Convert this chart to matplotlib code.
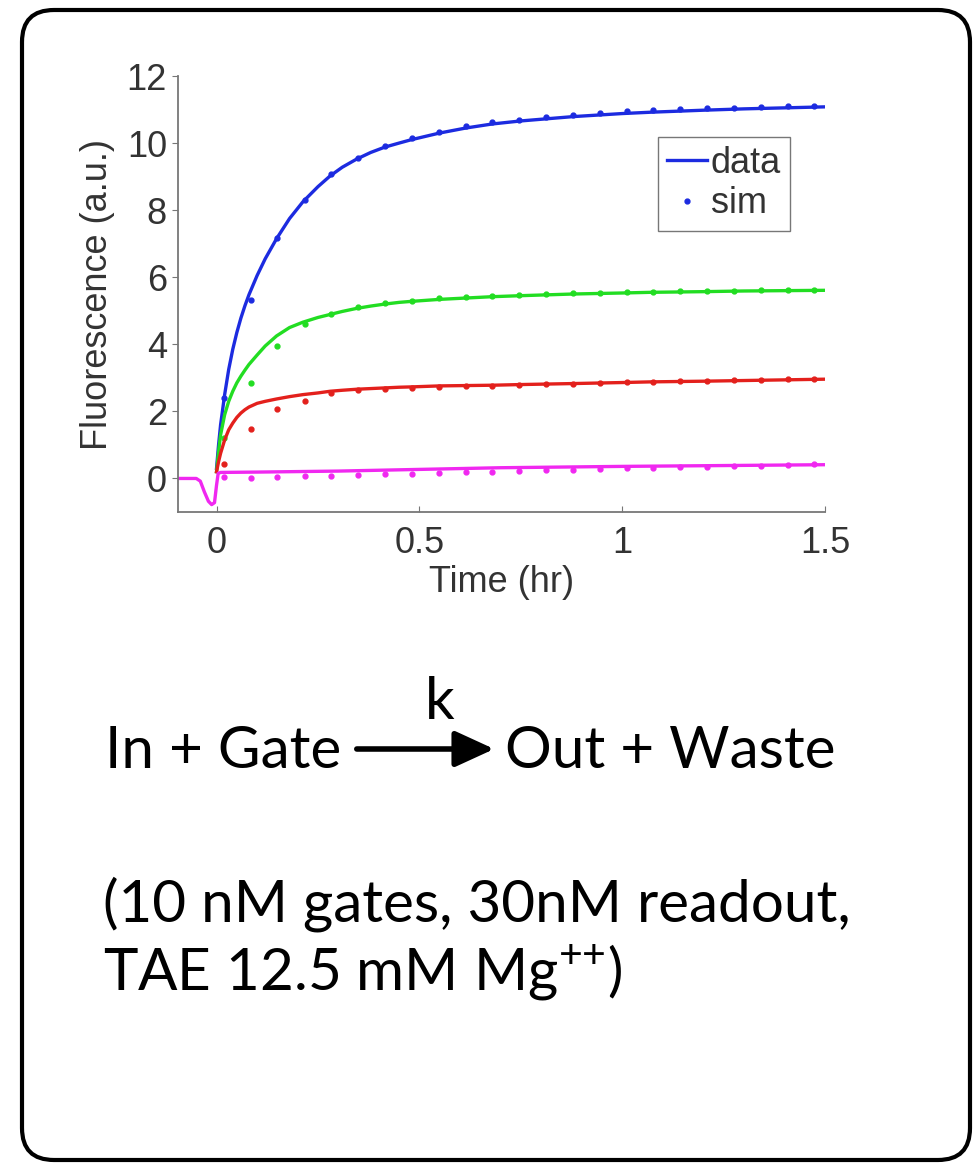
import matplotlib
matplotlib.use("Agg")
import matplotlib.pyplot as plt
from matplotlib.patches import FancyBboxPatch, FancyArrowPatch
from matplotlib.transforms import IdentityTransform

plt.rcParams["font.family"] = ["Liberation Sans", "DejaVu Sans"]
plt.rcParams["mathtext.fontset"] = "custom"
plt.rcParams["mathtext.rm"] = "Lato"

# measured traces (lines) - time in hr
t_line = [0, 0.005, 0.01, 0.02, 0.03, 0.04, 0.05, 0.06, 0.07, 0.08, 0.1, 0.12,
          0.148, 0.18, 0.213, 0.25, 0.28, 0.31, 0.345, 0.38, 0.415, 0.45, 0.48,
          0.55, 0.615, 0.68, 0.75, 0.88, 1.0, 1.07, 1.2, 1.3, 1.4, 1.5]
blue_line = [0.3, 1.0, 1.6, 2.5, 3.25, 3.85, 4.35, 4.78, 5.15, 5.48, 6.05, 6.55,
             7.15, 7.75, 8.25, 8.7, 9.02, 9.28, 9.52, 9.72, 9.88, 10.0, 10.1,
             10.3, 10.45, 10.57, 10.66, 10.79, 10.88, 10.92, 10.98, 11.02, 11.05, 11.08]
green_line = [0.2, 0.8, 1.3, 1.9, 2.3, 2.6, 2.85, 3.05, 3.23, 3.4, 3.68, 3.95,
              4.25, 4.5, 4.66, 4.8, 4.89, 4.98, 5.07, 5.14, 5.2, 5.25, 5.28,
              5.34, 5.38, 5.42, 5.45, 5.5, 5.53, 5.55, 5.57, 5.59, 5.6, 5.61]
red_line = [0.2, 0.5, 0.75, 1.15, 1.45, 1.65, 1.82, 1.95, 2.05, 2.13, 2.24, 2.3,
            2.37, 2.44, 2.5, 2.55, 2.6, 2.63, 2.66, 2.68, 2.7, 2.72, 2.73,
            2.76, 2.77, 2.78, 2.8, 2.83, 2.86, 2.88, 2.9, 2.92, 2.94, 2.96]
t_mag = [-0.1, -0.05, -0.04, -0.03, -0.02, -0.012, -0.005, 0, 0.004, 0.01,
         0.1, 0.3, 0.5, 0.7, 1.0, 1.2, 1.5]
mag_line = [0, 0, -0.08, -0.4, -0.68, -0.78, -0.72, -0.2, 0.15, 0.18,
            0.19, 0.22, 0.27, 0.32, 0.36, 0.38, 0.41]

# simulation points
t_sim = [0.018, 0.084, 0.150, 0.217, 0.283, 0.349, 0.415, 0.481, 0.548, 0.614,
         0.680, 0.746, 0.812, 0.879, 0.945, 1.011, 1.077, 1.143, 1.210, 1.276,
         1.342, 1.408, 1.474]
blue_sim = [2.4, 5.33, 7.16, 8.3, 9.07, 9.56, 9.9, 10.15, 10.34, 10.5, 10.62,
            10.7, 10.78, 10.85, 10.91, 10.95, 10.98, 11.01, 11.04, 11.06, 11.08,
            11.1, 11.11]
green_sim = [1.2, 2.86, 3.95, 4.6, 4.9, 5.1, 5.22, 5.3, 5.37, 5.42, 5.45, 5.48,
             5.5, 5.52, 5.54, 5.56, 5.57, 5.58, 5.59, 5.6, 5.61, 5.62, 5.63]
red_sim = [0.44, 1.46, 2.07, 2.32, 2.55, 2.63, 2.68, 2.71, 2.73, 2.75, 2.77,
           2.79, 2.81, 2.83, 2.85, 2.87, 2.88, 2.9, 2.92, 2.93, 2.95, 2.96, 2.98]
mag_sim = [0.05, 0.0, 0.04, 0.06, 0.08, 0.1, 0.12, 0.14, 0.16, 0.18, 0.2, 0.22,
           0.24, 0.26, 0.28, 0.3, 0.32, 0.33, 0.35, 0.36, 0.38, 0.4, 0.42]

colors = ["#1c2be0", "#22dd22", "#e3201c", "#f028f0"]

fig = plt.figure(figsize=(9.74, 11.65), dpi=100)
ax = fig.add_axes([178 / 974, 1 - 512 / 1165, 647 / 974, 436 / 1165])

series = [(t_line, blue_line, blue_sim), (t_line, green_line, green_sim),
          (t_line, red_line, red_sim), (t_mag, mag_line, mag_sim)]
for i, (tl, yl, ys) in enumerate(series):
    lab_l = "data" if i == 0 else None
    lab_s = "sim" if i == 0 else None
    ax.plot(tl, yl, color=colors[i], linewidth=2.4, label=lab_l,
            solid_joinstyle="round")
    ax.plot(t_sim, ys, linestyle="none", marker=".", markersize=7,
            color=colors[i], label=lab_s)

ax.set_xlim(-0.095, 1.5)
ax.set_ylim(-1, 12)
ax.set_xticks([0, 0.5, 1, 1.5])
ax.set_xticklabels(["0", "0.5", "1", "1.5"])
ax.set_yticks([0, 2, 4, 6, 8, 10, 12])
for s in ["top", "right"]:
    ax.spines[s].set_visible(False)
for s in ["left", "bottom"]:
    ax.spines[s].set_color("#777777")
    ax.spines[s].set_linewidth(1.3)
ax.tick_params(labelsize=26, colors="#777777", labelcolor="#333333", length=4)
ax.tick_params(axis="y", direction="out", pad=4)
ax.tick_params(axis="x", direction="in", pad=10)
ax.set_xlabel("Time (hr)", fontsize=26, color="#333333", labelpad=3)
ax.set_ylabel("Fluorescence (a.u.)", fontsize=26, color="#333333", labelpad=8)

leg = ax.legend(loc="upper right", bbox_to_anchor=(0.946, 0.86), fontsize=26,
                handlelength=1.1, handletextpad=0.1, borderpad=0.25,
                labelspacing=0.15, borderaxespad=0, fancybox=False,
                framealpha=1, edgecolor="#777777")
for txt in leg.get_texts():
    txt.set_color("#333333")

# rounded frame around the panel (pixel coords, origin bottom-left)
frame = FancyBboxPatch((22, 5), 948, 1150, boxstyle="round,pad=0,rounding_size=32",
                       transform=IdentityTransform(), fill=False,
                       edgecolor="black", linewidth=3)
fig.patches.append(frame)

txt_kw = dict(family=["Lato", "DejaVu Sans"], color="black", fontsize=42,
              va="baseline")
fig.text(105 / 974, 1 - 768 / 1165, "In + Gate", ha="left", **txt_kw)
fig.text(505 / 974, 1 - 768 / 1165, "Out + Waste", ha="left", **txt_kw)
fig.text(440 / 974, 1 - 719 / 1165, "k", ha="center", **txt_kw)
arrow = FancyArrowPatch((354 / 974, 1 - 749 / 1165), (497 / 974, 1 - 749 / 1165),
                        transform=fig.transFigure,
                        arrowstyle="-|>,head_length=1.2,head_width=0.55",
                        mutation_scale=20, linewidth=4, color="black")
fig.patches.append(arrow)
fig.text(103 / 974, 1 - 922 / 1165, "(10 nM gates, 30nM readout,", ha="left",
         **txt_kw)
fig.text(103 / 974, 1 - 990 / 1165, r"TAE 12.5 mM Mg$^{\mathrm{{+}{+}}}$)",
         ha="left", **txt_kw)

fig.savefig("out.png", dpi=100)
